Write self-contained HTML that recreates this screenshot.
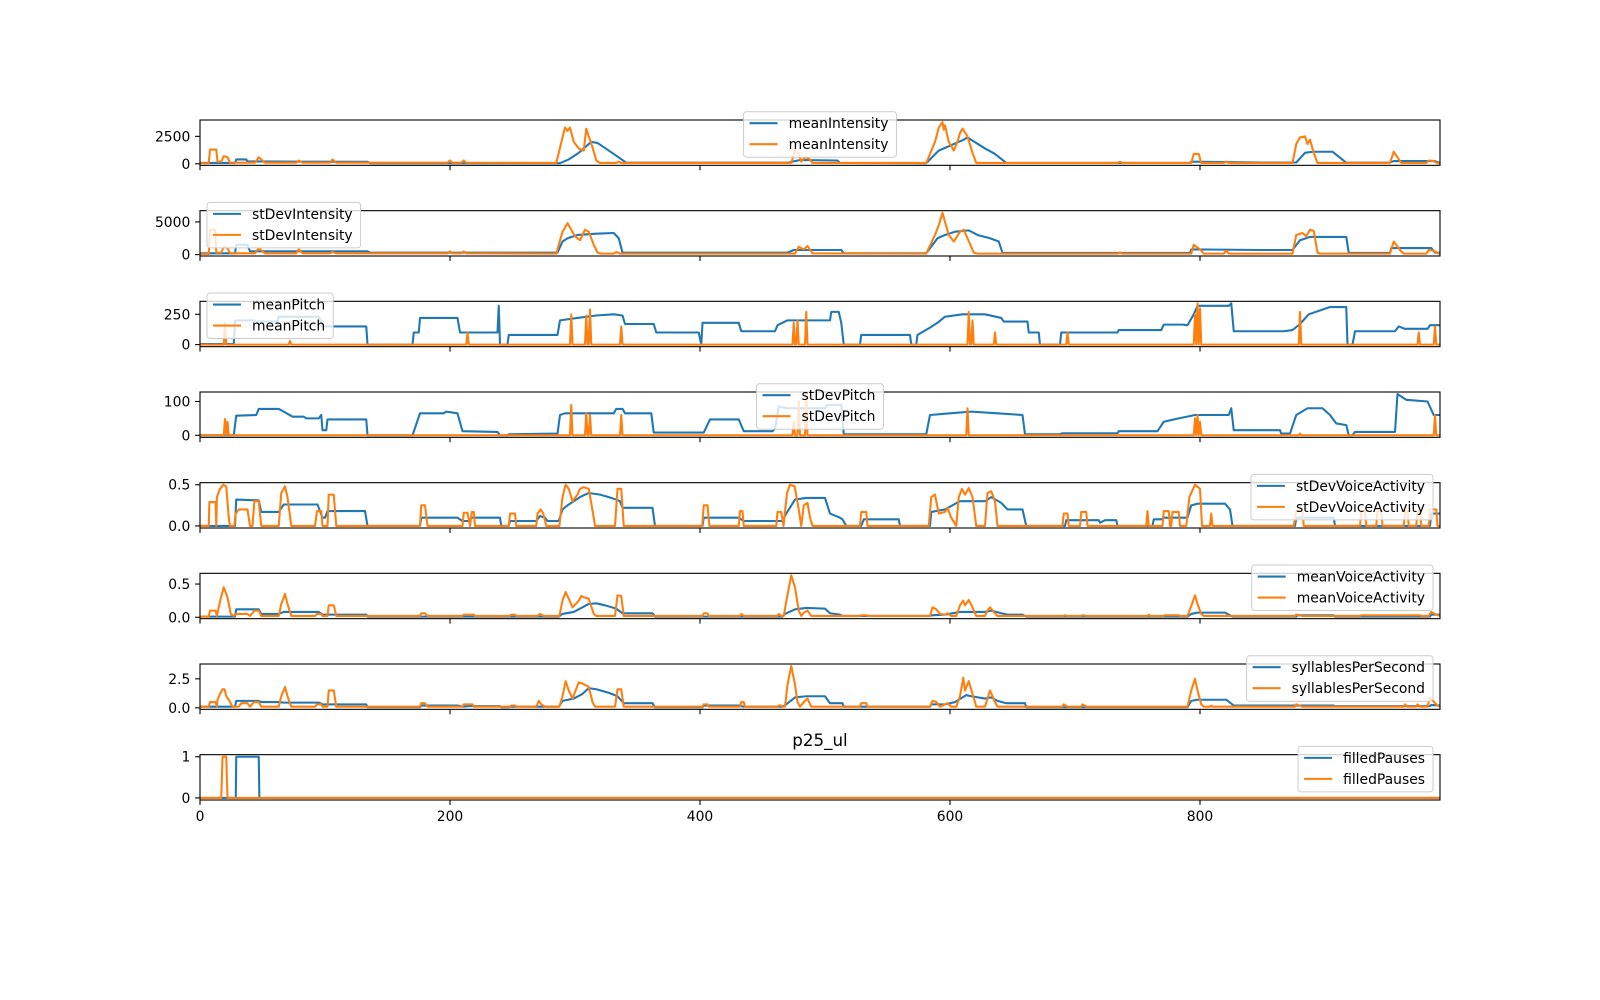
<!DOCTYPE html>
<html><head><meta charset="utf-8"><title>p25_ul</title>
<style>html,body{margin:0;padding:0;background:#fff}svg{display:block;font-family:"DejaVu Sans","Liberation Sans",sans-serif}</style>
</head><body>
<svg id="chart" width="1600" height="1000" viewBox="0 0 1600 1000" xmlns="http://www.w3.org/2000/svg">
<rect width="1600" height="1000" fill="#fff"/>
<text x="820" y="746" font-size="16.7" text-anchor="middle">p25_ul</text>
</svg>
<script>
const xTickValues = [0, 200, 400, 600, 800];
const xTickLabels = ["0", "200", "400", "600", "800"];
const xDomain = [0, 992];
const panelNames = ["meanIntensity","stDevIntensity","meanPitch","stDevPitch","stDevVoiceActivity","meanVoiceActivity","syllablesPerSecond","filledPauses"];
const yTickValues = [[0,2500],[0,5000],[0,250],[0,100],[0,0.5],[0,0.5],[0,2.5],[0,1]];
const yTickLabels = [["0","2500"],["0","5000"],["0","250"],["0","100"],["0.0","0.5"],["0.0","0.5"],["0.0","2.5"],["0","1"]];
const legendLocs = ["center","left","left","center","right","right","right","right"];

const meanIntensityBlue = [[0,80],[28,80],[29,400],[37,400],[38,220],[80,200],[134,180],[136,60],[288,60],[295,400],[303,1000],[313,2000],[318,1900],[331,900],[341,100],[470,100],[480,350],[510,300],[512,80],[581,60],[591,1200],[611,2200],[614,2400],[628,1400],[636,900],[645,80],[792,80],[793,200],[850,120],[877,120],[884,1000],[890,1100],[906,1100],[917,100],[951,100],[955,250],[988,250],[992,80]];
const meanIntensityOrange = [[0,50],[7,50],[8,1300],[13,1300],[14,200],[17,200],[19,700],[22,600],[24,100],[44,100],[47,600],[50,300],[52,100],[77,100],[79,300],[82,100],[104,100],[106,400],[109,100],[198,100],[200,300],[202,100],[209,100],[211,300],[213,100],[285,80],[290,2400],[292,3300],[294,3000],[296,3300],[299,2000],[303,1400],[307,1200],[309,3200],[311,2500],[314,1500],[317,300],[320,80],[333,80],[335,200],[337,80],[473,80],[476,1200],[479,900],[481,200],[484,600],[487,500],[490,80],[581,80],[588,2000],[591,3300],[594,3800],[595,3100],[596,3500],[599,2000],[603,1200],[606,2000],[608,2800],[610,3200],[614,2500],[618,1000],[621,80],[734,80],[736,200],[738,80],[793,80],[795,900],[799,900],[801,80],[819,80],[821,200],[823,80],[874,80],[877,1800],[880,2400],[884,2500],[886,1800],[888,2200],[891,1000],[894,80],[952,80],[955,1100],[958,600],[961,80],[981,80],[983,300],[987,250],[990,50],[992,50]];
const stDevIntensityBlue = [[0,200],[28,200],[29,1500],[38,1500],[40,500],[134,500],[136,300],[286,300],[290,2000],[294,2500],[302,3000],[317,3200],[331,3300],[335,2500],[338,300],[470,300],[475,700],[513,700],[515,200],[581,200],[590,2500],[596,3000],[604,3500],[615,3700],[622,3000],[632,2500],[639,2000],[642,250],[792,250],[793,800],[850,700],[874,700],[880,2200],[888,2700],[917,2700],[919,250],[952,250],[953,1000],[985,1000],[988,300],[992,300]];
const stDevIntensityOrange = [[0,100],[7,100],[8,3800],[12,3800],[13,300],[17,300],[19,1200],[22,1000],[24,200],[44,200],[47,1000],[52,200],[77,200],[79,800],[82,200],[104,200],[106,400],[109,200],[198,200],[200,500],[202,200],[209,200],[211,500],[213,200],[285,150],[290,3500],[294,4800],[297,3800],[300,2800],[304,2200],[308,3800],[311,3500],[315,1500],[318,300],[321,150],[331,150],[333,400],[336,150],[476,150],[479,1200],[483,800],[486,1300],[490,200],[581,150],[588,3000],[591,4500],[594,6400],[596,5000],[599,3000],[603,2000],[608,3500],[611,3800],[614,2500],[619,300],[622,150],[734,150],[736,300],[738,150],[793,150],[795,1500],[800,800],[803,150],[819,150],[821,600],[823,150],[874,150],[877,3000],[882,3300],[885,2800],[888,3800],[891,3600],[894,300],[896,150],[952,150],[955,2000],[960,700],[963,150],[981,150],[983,700],[987,600],[990,200],[992,200]];
const meanPitchBlue = [[0,5],[27,5],[28,200],[43,200],[45,190],[62,190],[63,230],[95,230],[98,150],[133,150],[134,0],[170,0],[171,100],[175,100],[176,220],[206,220],[208,100],[238,100],[239,320],[240,0],[246,0],[247,80],[286,80],[288,200],[302,220],[317,240],[331,250],[338,240],[340,170],[363,170],[365,100],[399,100],[401,0],[402,180],[431,180],[433,110],[460,110],[462,160],[470,200],[504,200],[505,270],[511,270],[513,180],[515,0],[528,0],[529,80],[568,80],[569,0],[573,0],[574,80],[584,140],[590,180],[596,230],[610,250],[628,250],[641,220],[643,190],[662,190],[663,100],[671,100],[672,0],[688,0],[689,100],[734,100],[735,120],[769,120],[771,165],[786,165],[790,160],[795,250],[798,320],[823,320],[825,340],[827,110],[867,110],[874,120],[880,170],[887,250],[904,310],[917,310],[918,0],[922,0],[924,110],[956,110],[959,150],[964,130],[982,130],[984,160],[992,160]];
const meanPitchOrange = [[0,0],[19,0],[20,180],[21,0],[71,0],[72,30],[73,0],[213,0],[214,100],[215,0],[296,0],[297,250],[298,0],[308,0],[309,240],[310,0],[311,0],[312,290],[313,0],[336,0],[337,150],[338,0],[474,0],[475,180],[476,0],[477,0],[478,200],[479,0],[484,0],[485,270],[486,0],[614,0],[615,270],[616,0],[617,0],[618,200],[619,0],[635,0],[636,100],[637,0],[693,0],[694,100],[695,0],[795,0],[796,250],[797,0],[798,340],[799,0],[800,300],[801,0],[879,0],[880,270],[881,0],[974,0],[975,100],[976,0],[987,0],[988,150],[989,0],[992,0]];
const stDevPitchBlue = [[0,0],[27,0],[29,58],[45,60],[47,78],[63,78],[67,70],[74,55],[83,55],[85,50],[95,50],[97,60],[98,15],[101,15],[102,47],[133,47],[134,0],[170,0],[176,65],[195,65],[197,70],[206,65],[210,12],[238,10],[240,0],[246,0],[247,3],[286,5],[288,60],[292,65],[331,65],[333,78],[338,78],[340,65],[361,65],[363,8],[403,8],[408,47],[431,47],[435,12],[458,12],[460,20],[463,85],[470,80],[500,80],[502,90],[513,90],[515,3],[581,3],[584,60],[600,65],[617,70],[638,65],[658,60],[660,3],[688,3],[690,6],[734,6],[735,12],[766,12],[771,40],[783,50],[796,60],[823,60],[825,80],[827,15],[864,15],[865,5],[872,5],[877,60],[886,80],[898,80],[904,60],[909,35],[917,30],[919,0],[922,0],[924,10],[956,10],[958,122],[965,105],[982,100],[987,60],[992,60]];
const stDevPitchOrange = [[0,0],[19,0],[20,48],[21,0],[22,40],[23,0],[296,0],[297,90],[298,0],[308,0],[309,65],[310,0],[311,0],[312,60],[313,0],[336,0],[337,60],[338,0],[474,0],[475,40],[476,0],[478,0],[479,100],[480,0],[484,0],[485,120],[486,0],[613,0],[614,80],[615,0],[795,0],[796,50],[797,0],[798,60],[799,0],[800,40],[801,0],[879,0],[880,5],[881,0],[987,0],[988,60],[989,0],[992,0]];
const stDevVoiceBlue = [[0,0],[28,0],[29,0.32],[47,0.31],[49,0.17],[63,0.17],[67,0.26],[94,0.26],[95,0.22],[98,0.1],[100,0.1],[102,0.18],[132,0.18],[134,0],[176,0],[177,0.1],[206,0.1],[210,0.06],[215,0.06],[217,0.1],[240,0.1],[241,0],[247,0],[248,0.06],[269,0.06],[272,0.12],[276,0.1],[278,0.06],[287,0.06],[290,0.2],[294,0.25],[299,0.3],[304,0.35],[311,0.4],[320,0.38],[327,0.35],[333,0.32],[336,0.3],[338,0.22],[362,0.22],[364,0],[402,0],[403,0.1],[431,0.1],[435,0.06],[466,0.06],[469,0.15],[476,0.32],[485,0.34],[500,0.34],[504,0.15],[512,0.1],[514,0.08],[517,0],[529,0],[531,0.08],[559,0.08],[560,0],[584,0],[585,0.17],[596,0.2],[608,0.3],[628,0.3],[633,0.35],[641,0.28],[646,0.2],[658,0.2],[661,0],[692,0],[693,0.07],[719,0.07],[720,0.04],[724,0.07],[733,0.07],[734,0],[762,0],[763,0.08],[769,0.08],[771,0.1],[790,0.1],[793,0.25],[798,0.27],[820,0.27],[824,0.2],[826,0],[876,0],[877,0.1],[907,0.1],[908,0],[984,0],[985,0.15],[992,0.15]];
const stDevVoiceOrange = [[0,0],[7,0],[7.5,0.29],[12.5,0.29],[13,0],[13.5,0.35],[16,0.45],[18.5,0.5],[21,0.48],[23,0.1],[24,0],[27.5,0],[28.5,0.15],[31,0.2],[38,0.2],[40,0],[42,0],[43.5,0.3],[47,0.3],[49,0],[63,0],[65,0.4],[68,0.48],[70,0.35],[73,0],[92,0],[93.6,0.18],[97,0.18],[98,0],[102,0],[103,0.38],[107,0.38],[109,0],[176,0],[177,0.25],[180,0.25],[182,0],[210,0],[211,0.16],[214,0.16],[216,0],[217.5,0.17],[219,0.17],[220,0],[247,0],[248,0.15],[252,0.15],[253,0],[269,0],[270,0.15],[272.5,0.2],[274.6,0.15],[277,0],[287.5,0],[290,0.35],[292.5,0.5],[295,0.45],[298,0.3],[302,0.38],[304,0.45],[307,0.47],[311,0.45],[315,0.1],[316,0],[332,0],[334,0.45],[337,0.45],[339,0],[401.8,0],[403,0.25],[406,0.25],[407.5,0],[431,0],[432,0.18],[434,0.18],[435,0],[461,0],[462,0.17],[465,0.17],[466.8,0],[469.6,0.4],[472,0.5],[475.7,0.48],[479,0.2],[481,0],[483,0.25],[486,0.28],[488,0.1],[490,0],[528,0],[529,0.17],[533,0.17],[534,0],[583,0],[585,0.35],[588,0.38],[591,0.15],[596,0.17],[598,0.22],[601,0.1],[605,0],[607,0.35],[609.6,0.45],[612,0.38],[615,0.46],[618,0.35],[621,0],[628,0],[630,0.4],[633,0.42],[636,0.3],[638,0],[690,0],[691,0.15],[694,0.15],[695,0],[704,0],[705,0.17],[709,0.17],[710,0],[757,0],[758,0.18],[759,0],[770,0],[771,0.18],[775,0.18],[776,0],[777,0],[778,0.17],[783,0.17],[784,0],[789,0],[791.5,0.35],[796,0.5],[800,0.45],[801.6,0],[808,0],[809,0.15],[810,0],[875,0],[877,0.18],[882,0.18],[883,0],[928,0],[929,0.18],[932,0.18],[933,0],[941,0],[942,0.18],[945,0.18],[946,0],[963,0],[964,0.18],[966,0.18],[967,0],[973,0],[974,0.18],[976,0.18],[977,0],[983,0],[984,0.2],[989,0.2],[990,0],[992,0]];
const meanVoiceBlue = [[0,0.01],[28,0.01],[29,0.12],[47,0.12],[49,0.05],[63,0.05],[67,0.08],[95,0.08],[98,0.04],[133,0.04],[134,0.01],[287,0.01],[290,0.05],[299,0.08],[306,0.15],[311,0.2],[317,0.21],[324,0.18],[333,0.13],[338,0.06],[362,0.06],[364,0.01],[466,0.01],[468,0.05],[476,0.12],[485,0.14],[500,0.13],[504,0.06],[512,0.04],[514,0.02],[584,0.02],[585,0.03],[596,0.04],[608,0.08],[628,0.08],[633,0.1],[641,0.06],[646,0.04],[658,0.04],[661,0.01],[790,0.01],[793,0.05],[798,0.07],[820,0.07],[824,0.03],[826,0.01],[877,0.01],[878,0.03],[907,0.03],[908,0.01],[984,0.01],[985,0.04],[992,0.04]];
const meanVoiceOrange = [[0,0.01],[7,0.01],[8,0.1],[12.5,0.1],[13.5,0.02],[15,0.15],[16.8,0.3],[19,0.45],[21,0.35],[22,0.3],[24.6,0.05],[27,0.02],[29,0.05],[38,0.05],[40,0.02],[43.6,0.1],[47,0.1],[49,0.02],[63,0.02],[65,0.2],[68,0.35],[70,0.2],[73,0.02],[92,0.02],[93.6,0.05],[97,0.05],[98,0.02],[102,0.02],[103,0.18],[107,0.18],[109,0.02],[176,0.02],[177,0.06],[180,0.06],[182,0.02],[210,0.02],[211,0.04],[219,0.04],[220,0.02],[248,0.02],[249,0.04],[252,0.04],[253,0.02],[270,0.02],[272,0.05],[275,0.02],[287.5,0.02],[290,0.25],[292.5,0.38],[295,0.28],[298,0.15],[303,0.25],[305,0.32],[307,0.3],[311,0.28],[315,0.05],[317,0.02],[332,0.02],[334,0.33],[337,0.32],[339,0.02],[402,0.02],[403,0.06],[406,0.06],[407,0.02],[432,0.02],[433,0.05],[435,0.02],[462,0.02],[463,0.05],[465,0.02],[467,0.02],[469.6,0.3],[473,0.63],[476,0.45],[479,0.1],[481,0.02],[483,0.07],[486,0.1],[489,0.02],[528,0.02],[529,0.03],[533,0.03],[534,0.02],[584,0.02],[586,0.15],[589,0.12],[592,0.05],[596,0.04],[598,0.06],[601,0.02],[605,0.02],[608,0.18],[610.6,0.25],[612,0.18],[615,0.26],[618,0.15],[621,0.02],[628,0.02],[630,0.1],[632,0.15],[636,0.06],[638,0.02],[691,0.02],[692,0.03],[694,0.02],[705,0.02],[706,0.03],[709,0.02],[758,0.02],[759,0.04],[760,0.02],[771,0.02],[772,0.03],[783,0.03],[784,0.02],[790,0.02],[793.6,0.2],[796,0.33],[798,0.2],[801,0.05],[803,0.02],[876,0.02],[877,0.04],[882,0.02],[928,0.02],[929,0.03],[976,0.03],[977,0.02],[983,0.02],[985,0.08],[989,0.04],[992,0.02]];
const syllablesBlue = [[0,0.1],[28,0.1],[29,0.6],[47,0.6],[49,0.5],[63,0.5],[67,0.45],[95,0.45],[98,0.3],[133,0.3],[134,0.05],[176,0.05],[177,0.2],[206,0.2],[210,0.1],[216,0.15],[240,0.15],[241,0.05],[247,0.05],[248,0.1],[287,0.1],[290,0.6],[299,0.8],[306,1.2],[311,1.7],[317,1.6],[327,1.3],[334,1.0],[339,0.4],[362,0.4],[364,0.05],[402,0.05],[403,0.2],[431,0.2],[435,0.1],[466,0.1],[469,0.3],[476,0.9],[485,1.0],[500,1.0],[504,0.4],[514,0.4],[515,0.1],[584,0.1],[585,0.3],[596,0.3],[604,0.5],[613,1.1],[617,1.0],[628,0.8],[633,0.9],[638,0.6],[645,0.4],[660,0.4],[661,0.05],[790,0.05],[793,0.6],[798,0.7],[821,0.7],[827,0.2],[907,0.2],[908,0.15],[984,0.15],[985,0.25],[992,0.2]];
const syllablesOrange = [[0,0.1],[7,0.1],[8,0.5],[12.5,0.5],[13.5,0.1],[14,0.7],[16,1.2],[18,1.6],[19.6,1.6],[21,1.0],[23,0.7],[26,0.1],[31,0.1],[33,0.4],[38,0.4],[40,0.1],[43,0.5],[47,0.5],[49,0.1],[63,0.1],[65,1.0],[68,1.8],[70,1.0],[73,0.1],[92,0.1],[93.6,0.3],[97,0.3],[98,0.1],[102,0.1],[103,1.5],[107,1.5],[109,0.1],[176,0.1],[177,0.4],[180,0.4],[182,0.1],[210,0.1],[211,0.3],[218,0.3],[219,0.1],[248,0.1],[249,0.2],[252,0.2],[253,0.1],[269,0.1],[271,0.6],[273,0.3],[276,0.1],[287.5,0.1],[290,1.0],[292.5,2.3],[295,1.5],[298,0.8],[303,2.2],[306,2.1],[311,1.8],[314,0.5],[316,0.1],[332,0.1],[334,1.6],[337,1.6],[339,0.1],[402,0.1],[403,0.3],[406,0.3],[407,0.1],[432,0.1],[433,0.5],[435,0.5],[436,0.1],[462,0.1],[463,0.2],[465,0.2],[466,0.1],[468,0.1],[470,2.0],[473,3.6],[476,2.0],[478,0.5],[480,0.1],[483,0.5],[486,0.8],[489,0.1],[528,0.1],[529,0.4],[533,0.4],[534,0.1],[584,0.1],[586,0.6],[589,0.5],[592,0.1],[596,0.3],[598,0.4],[601,0.1],[605,0.1],[608,1.0],[610.6,2.6],[612,1.5],[615,2.3],[618,1.2],[621,0.1],[628,0.1],[630,0.8],[632,1.5],[636,0.5],[638,0.1],[690,0.1],[691,0.3],[694,0.1],[705,0.1],[706,0.3],[709,0.1],[790,0.1],[793,1.5],[796,2.5],[798,1.5],[801,0.3],[803,0.1],[808,0.1],[809,0.2],[810,0.1],[876,0.1],[877,0.3],[882,0.1],[963,0.1],[964,0.3],[966,0.1],[973,0.1],[974,0.3],[976,0.1],[982,0.1],[984,0.9],[988,0.4],[990,0.2],[992,0.1]];
const filledPausesBlue = [[0,0],[28.6,0],[29,1],[47,1],[47.5,0],[992,0]];
const filledPausesOrange = [[0,0],[17,0],[18,1],[21,1],[22,0],[992,0]];

const seriesBlue = [meanIntensityBlue, stDevIntensityBlue, meanPitchBlue, stDevPitchBlue, stDevVoiceBlue, meanVoiceBlue, syllablesBlue, filledPausesBlue];
const seriesOrange = [meanIntensityOrange, stDevIntensityOrange, meanPitchOrange, stDevPitchOrange, stDevVoiceOrange, meanVoiceOrange, syllablesOrange, filledPausesOrange];

(function(){
  const NS = "http://www.w3.org/2000/svg";
  const svg = document.getElementById("chart");
  const L = 200, R = 1440, TOP = 120, H = 45.333, STEP = 90.667;
  const BLUE = "#1f77b4", ORANGE = "#ff7f0e";
  function mk(tag, attrs, parent){
    const e = document.createElementNS(NS, tag);
    for (const k in attrs) e.setAttribute(k, attrs[k]);
    (parent || svg).appendChild(e);
    return e;
  }
  const xScale = v => L + (v - xDomain[0]) / (xDomain[1] - xDomain[0]) * (R - L);
  const defs = mk("defs", {});
  for (let i = 0; i < panelNames.length; i++) {
    const top = TOP + i * STEP, bot = top + H;
    const b = seriesBlue[i], o = seriesOrange[i];
    let lo = Infinity, hi = -Infinity;
    [b, o].forEach(s => s.forEach(p => { lo = Math.min(lo, p[1]); hi = Math.max(hi, p[1]); }));
    const pad = (hi - lo) * 0.05;
    const y0 = lo - pad, y1 = hi + pad;
    const yScale = v => bot - (v - y0) / (y1 - y0) * H;
    const g = mk("g", {});
    
    
    const cp = mk("clipPath", {id: "clip" + i}, defs);
    mk("rect", {x: L, y: top, width: R - L, height: H}, cp);
    [[b, BLUE, "blue"], [o, ORANGE, "orange"]].forEach(([s, col, nm]) => {
      const d = s.map((p, k) => (k ? "L" : "M") + xScale(p[0]).toFixed(2) + " " + yScale(p[1]).toFixed(2)).join("");
      const path = mk("path", {d: d, fill: "none", stroke: col, "stroke-width": 2.08, "stroke-linejoin": "round", "clip-path": "url(#clip" + i + ")"}, g);
      
      
    });
    const frame = mk("rect", {x: L, y: top, width: R - L, height: H, fill: "none", stroke: "#000", "stroke-width": 1.1}, g);
    
    
    xTickValues.forEach((v, k) => {
      const x = xScale(v);
      mk("line", {x1: x, x2: x, y1: bot, y2: bot + 4.9, stroke: "#000", "stroke-width": 1.1}, g);
      if (i === panelNames.length - 1) {
        const t = mk("text", {x: x, y: bot + 21, "font-size": 13.9, "text-anchor": "middle"}, g);
        t.textContent = xTickLabels[k];
        
        
      }
    });
    yTickValues[i].forEach((v, k) => {
      const y = yScale(v);
      mk("line", {x1: L - 4.9, x2: L, y1: y, y2: y, stroke: "#000", "stroke-width": 1.1}, g);
      const t = mk("text", {x: L - 9.7, y: y + 5, "font-size": 13.9, "text-anchor": "end"}, g);
      t.textContent = yTickLabels[i][k];
      
      
    });
    // legend
    const lg = mk("g", {}, g);
    
    
    const box = mk("rect", {y: top - 8.3, height: 45.5, rx: 3, fill: "#fff", "fill-opacity": 0.8, stroke: "#ccc", "stroke-width": 1}, lg);
    const t1 = mk("text", {y: top - 8.3 + 16.5, "font-size": 13.9}, lg); t1.textContent = panelNames[i];
    const t2 = mk("text", {y: top - 8.3 + 37.5, "font-size": 13.9}, lg); t2.textContent = panelNames[i];
    const tw = t1.getComputedTextLength ? t1.getComputedTextLength() : panelNames[i].length * 8;
    const w = 45 + tw + 8;
    let bx;
    if (legendLocs[i] === "left") bx = 207;
    else if (legendLocs[i] === "right") bx = 1433 - w;
    else bx = 820 - w / 2;
    box.setAttribute("x", bx); box.setAttribute("width", w);
    t1.setAttribute("x", bx + 45); t2.setAttribute("x", bx + 45);
    const e1 = mk("line", {x1: bx + 6, x2: bx + 34, y1: top - 8.3 + 11.5, y2: top - 8.3 + 11.5, stroke: BLUE, "stroke-width": 2.08}, lg);
    
    
    const e2 = mk("line", {x1: bx + 6, x2: bx + 34, y1: top - 8.3 + 32.5, y2: top - 8.3 + 32.5, stroke: ORANGE, "stroke-width": 2.08}, lg);
    
    
  }
})();
</script>
</body></html>
